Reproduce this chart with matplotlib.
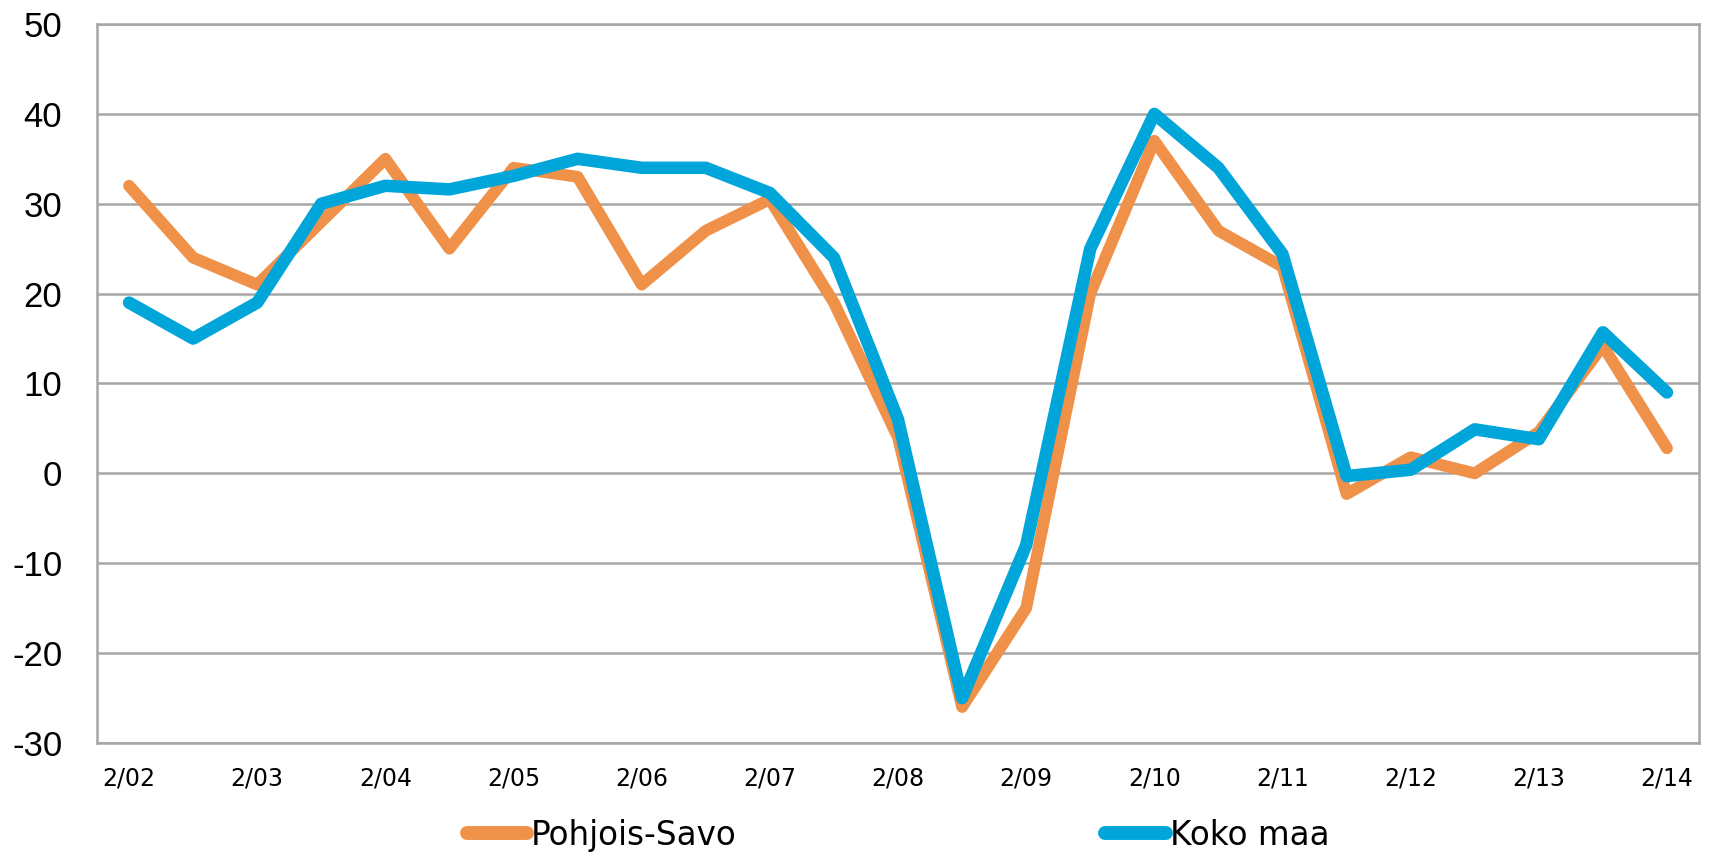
import matplotlib
matplotlib.use("Agg")
import matplotlib.pyplot as plt

# ── Data ───────────────────────────────────────────────────────
periods = ["2/02", "8/02", "2/03", "8/03", "2/04", "8/04", "2/05", "8/05",
           "2/06", "8/06", "2/07", "8/07", "2/08", "8/08", "2/09", "8/09",
           "2/10", "8/10", "2/11", "8/11", "2/12", "8/12", "2/13", "8/13",
           "2/14"]
pohjois_savo = [32, 24, 21, 28, 35, 25, 34, 33, 21, 27, 30.5, 19, 4, -26,
                -15, 20, 37, 27, 23, -2.3, 1.8, 0, 4.6, 14.2, 2.8]
koko_maa = [19, 15, 19, 30, 32, 31.6, 33.1, 35, 34, 34, 31.2, 24, 6, -25,
            -8, 25, 40, 34, 24.4, -0.3, 0.4, 4.9, 3.8, 15.7, 9]
y_ticks = [-30, -20, -10, 0, 10, 20, 30, 40, 50]

ORANGE = "#F0914A"
BLUE = "#00A5DA"
GRID = "#A6A6A6"

fig = plt.figure(figsize=(17.12, 8.55), dpi=100)
ax = fig.add_axes([97 / 1712, 1 - 743 / 855, (1699 - 97) / 1712, (743 - 24) / 855])

x = list(range(len(periods)))
ax.plot(x, pohjois_savo, color=ORANGE, lw=8.5, solid_capstyle="round",
        solid_joinstyle="round", label="Pohjois-Savo")
ax.plot(x, koko_maa, color=BLUE, lw=9, solid_capstyle="round",
        solid_joinstyle="round", label="Koko maa")

ax.set_xlim(-0.5, len(periods) - 0.5)
ax.set_ylim(-30, 50)
ax.set_yticks(y_ticks)
ax.set_yticklabels([str(v) for v in y_ticks], fontsize=25,
                   family=["Liberation Sans", "DejaVu Sans"])
ax.set_xticks(x[::2])
ax.set_xticklabels(periods[::2], fontsize=17)
ax.tick_params(axis="y", length=0, pad=25)
ax.tick_params(axis="x", length=0, pad=17)

ax.yaxis.grid(True, color=GRID, lw=1.8)
ax.set_axisbelow(True)
for side in ["left", "right", "bottom", "top"]:
    ax.spines[side].set_color(GRID)
    ax.spines[side].set_linewidth(1.8)

leg = fig.legend(loc="center", bbox_to_anchor=(898 / 1712, 1 - 835 / 855),
                 ncol=2, frameon=False, fontsize=23.5, handlelength=1.85,
                 handletextpad=0.12, columnspacing=11.3)
for line in leg.get_lines():
    line.set_linewidth(10)
    line.set_solid_capstyle("round")

fig.savefig("out.png", dpi=100)
